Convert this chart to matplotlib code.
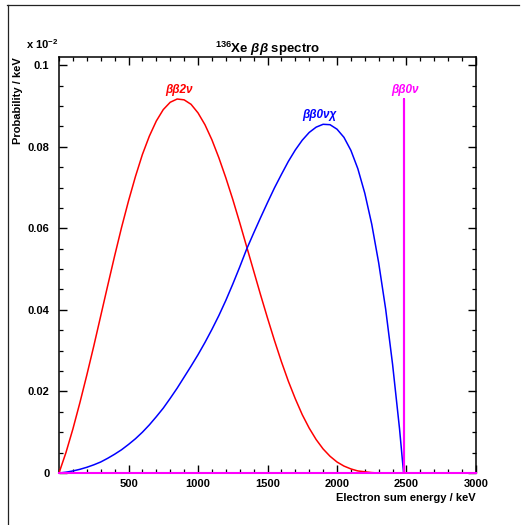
import matplotlib
matplotlib.use("Agg")
import matplotlib.pyplot as plt
from matplotlib.lines import Line2D
from matplotlib.ticker import MultipleLocator, FixedLocator

# ---- data (energy in keV, probability per keV) ----
red_E = [0, 50, 100, 150, 200, 250, 300, 350, 400, 450, 500, 550, 600, 650, 700, 750,
         800, 850, 900, 950, 1000, 1050, 1100, 1150, 1200, 1250, 1300, 1350, 1400,
         1450, 1500, 1550, 1600, 1650, 1700, 1750, 1800, 1850, 1900, 1950, 2000, 2050,
         2100, 2150, 2200, 2250, 2300, 2350, 2479]
red_v = [0.0, 0.0050, 0.0108, 0.0172, 0.0240, 0.0311, 0.0385, 0.0459, 0.0532, 0.0602,
         0.0667, 0.0727, 0.0781, 0.0826, 0.0863, 0.0891, 0.0909, 0.0917, 0.0915,
         0.0904, 0.0883, 0.0854, 0.0817, 0.0773, 0.0724, 0.0671, 0.0614, 0.0555,
         0.0496, 0.0437, 0.0380, 0.0325, 0.0273, 0.0225, 0.0182, 0.0143, 0.0110,
         0.0082, 0.0059, 0.0041, 0.0027, 0.0017, 0.0010, 0.0005, 0.0003, 0.0001,
         0.0, 0.0, 0.0]

blue_E = [0, 50, 100, 150, 200, 250, 300, 350, 400, 450, 500, 550, 600, 650, 700, 750,
          800, 850, 900, 950, 1000, 1050, 1100, 1150, 1200, 1250, 1300, 1350, 1400,
          1450, 1500, 1550, 1600, 1650, 1700, 1750, 1800, 1850, 1900, 1950, 2000, 2050,
          2100, 2150, 2200, 2250, 2300, 2350, 2400, 2450, 2479]
blue_v = [0.0, 0.0002, 0.0005, 0.0009, 0.0014, 0.0020, 0.0027, 0.0036, 0.0046, 0.0057,
          0.0070, 0.0084, 0.0100, 0.0118, 0.0138, 0.0159, 0.0183, 0.0208, 0.0235,
          0.0262, 0.0290, 0.0320, 0.0352, 0.0386, 0.0423, 0.0463, 0.0505, 0.0549,
          0.0588, 0.0626, 0.0663, 0.0699, 0.0732, 0.0764, 0.0792, 0.0816, 0.0835,
          0.0848, 0.0855, 0.0854, 0.0843, 0.0823, 0.0791, 0.0746, 0.0686, 0.0610,
          0.0515, 0.0402, 0.0266, 0.0108, 0.0]

mono_E = [0, 2479, 2479, 2479, 3000]
mono_v = [0.0, 0.0, 0.0918, 0.0, 0.0]

labels = ["\u03b2\u03b22\u03bd", "\u03b2\u03b20\u03bd\u03c7", "\u03b2\u03b20\u03bd"]
x_ticks = [500, 1000, 1500, 2000, 2500, 3000]
x_ticklabels = ["500", "1000", "1500", "2000", "2500", "3000"]
y_ticks = [0, 0.02, 0.04, 0.06, 0.08, 0.1]
y_ticklabels = ["0", "0.02", "0.04", "0.06", "0.08", "0.1"]

plt.rcParams['font.family'] = ['Liberation Sans', 'DejaVu Sans']
plt.rcParams['mathtext.fontset'] = 'custom'
plt.rcParams['mathtext.rm'] = 'Liberation Sans:bold'
plt.rcParams['mathtext.bf'] = 'Liberation Sans:bold'
plt.rcParams['mathtext.it'] = 'Liberation Sans:italic:bold'

W, H = 521, 525
fig = plt.figure(figsize=(W / 100, H / 100), dpi=100)
fig.patch.set_facecolor('white')

# outer frame (top and left edges)
fig.add_artist(Line2D([7 / W, 519 / W], [1 - 4.5 / H, 1 - 4.5 / H], color='#222222', lw=0.9,
                      transform=fig.transFigure))
fig.add_artist(Line2D([7.5 / W, 7.5 / W], [0, 1 - 4.5 / H], color='#222222', lw=0.9,
                      transform=fig.transFigure))

ax = fig.add_axes([59 / W, (H - 473) / H, 417 / W, 416 / H])
ax.plot(red_E, red_v, color='#ff0000', lw=1.1, zorder=3)
ax.plot(blue_E, blue_v, color='#0000ff', lw=1.1, zorder=3)
ax.plot(mono_E, mono_v, color='#ff00ff', lw=1.5, zorder=4, clip_on=False)

ax.set_xlim(0, 3000)
ax.set_ylim(0, 0.102)

ax.xaxis.set_major_locator(FixedLocator(x_ticks))
ax.set_xticklabels(x_ticklabels)
ax.xaxis.set_minor_locator(MultipleLocator(100))
ax.yaxis.set_major_locator(FixedLocator(y_ticks))
ax.set_yticklabels(y_ticklabels)
ax.yaxis.set_minor_locator(MultipleLocator(0.005))

ax.tick_params(which='both', direction='in', top=True, right=True, color='black')
ax.tick_params(which='major', length=5.5, width=1.0)
ax.tick_params(which='minor', length=3, width=0.9)
ax.tick_params(axis='x', which='major', pad=4, labelsize=8)
ax.tick_params(axis='y', which='major', pad=7, labelsize=8)
for lab in ax.get_xticklabels() + ax.get_yticklabels():
    lab.set_fontweight('bold')
for s in ax.spines.values():
    s.set_linewidth(1.1)

# curve labels
tfont = dict(fontsize=8.5, fontweight='bold', fontstyle='italic', ha='center', va='center')
ir = red_v.index(max(red_v))
ax.text(red_E[ir] + 10, red_v[ir] + 0.0022, labels[0], color='#ff0000', **tfont)
ib = blue_v.index(max(blue_v))
ax.text(blue_E[ib] - 30, blue_v[ib] + 0.0023, labels[1], color='#0000ff', **tfont)
ax.text(mono_E[2] + 10, mono_v[2] + 0.0022, labels[2], color='#ff00ff', **tfont)

# title
fig.text(268 / W, 1 - 49 / H, r'$^{136}$Xe $\beta\beta$ spectro', ha='center', va='center',
         fontsize=9.5, fontweight='bold')

# axis titles
fig.text(476 / W, 1 - 498 / H, 'Electron sum energy / keV', ha='right', va='center',
         fontsize=8, fontweight='bold')
fig.text(18 / W, 1 - 57 / H, 'Probability / keV', ha='center', va='top', rotation=90,
         fontsize=8, fontweight='bold')
fig.text(26 / W, 1 - 44 / H, r'x 10$^{-2}$', ha='left', va='center', fontsize=8,
         fontweight='bold')

fig.savefig('out.png', dpi=100, facecolor='white')
